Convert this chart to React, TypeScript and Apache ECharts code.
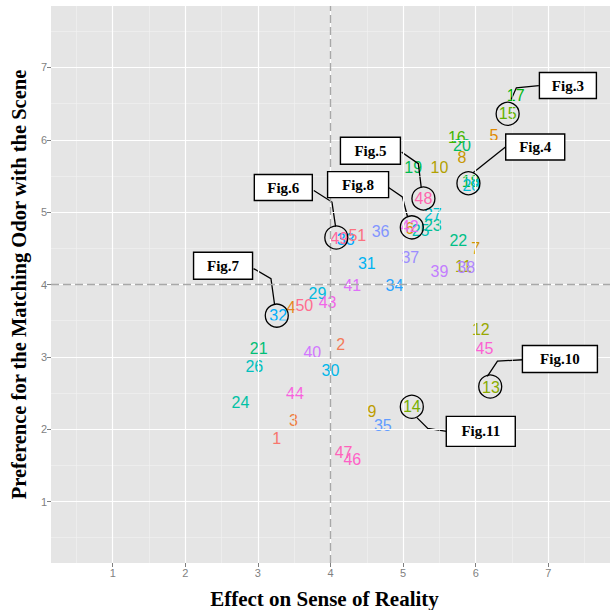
import React, { useEffect, useRef } from "react";
import * as echarts from "echarts";

// ---- data: label id, effect on sense of reality (x), preference (y) ----
const pointIds = [
  1, 2, 3, 4, 5, 6, 7, 8, 9, 10,
  11, 12, 13, 14, 15, 16, 17, 18, 19, 20,
  21, 22, 23, 24, 25, 26, 27, 28, 29, 30,
  31, 32, 33, 34, 35, 36, 37, 38, 39, 40,
  41, 42, 43, 44, 45, 46, 47, 48, 49, 50, 51,
];
const pointX = [
  3.26, 4.14, 3.49, 3.46, 6.25, 5.09, 6.0, 5.81, 4.57, 5.5,
  5.83, 6.07, 6.21, 5.12, 6.44, 5.74, 6.55, 5.93, 5.14, 5.81,
  3.01, 5.76, 5.41, 2.76, 5.24, 2.95, 5.41, 5.94, 3.82, 4.0,
  4.5, 3.28, 4.21, 4.88, 4.72, 4.69, 5.1, 5.87, 5.5, 3.75,
  4.3, 5.09, 3.96, 3.51, 6.12, 4.3, 4.18, 5.28, 4.12, 3.64, 4.37,
];
const pointY = [
  1.87, 3.17, 2.12, 3.68, 6.06, 4.78, 4.5, 5.76, 2.24, 5.62,
  4.25, 3.38, 2.57, 2.31, 6.36, 6.03, 6.61, 5.42, 5.62, 5.92,
  3.11, 4.61, 4.82, 2.37, 4.75, 2.87, 4.97, 5.37, 3.88, 2.81,
  4.29, 3.57, 4.62, 3.99, 2.05, 4.73, 4.37, 4.24, 4.18, 3.06,
  3.99, 4.8, 3.75, 2.49, 3.12, 1.58, 1.68, 5.19, 4.64, 3.71, 4.68,
];

const xTicks = [1, 2, 3, 4, 5, 6, 7];
const yTicks = [1, 2, 3, 4, 5, 6, 7];
const minorBreaks = [0.5, 1.5, 2.5, 3.5, 4.5, 5.5, 6.5, 7.5];
const refX = 4;
const refY = 4;

// ---- annotations ----
const figLabels = ["Fig.3", "Fig.4", "Fig.5", "Fig.6", "Fig.7", "Fig.8", "Fig.10", "Fig.11"];
const circleX = [6.44, 5.9, 5.28, 4.08, 3.26, 5.12, 6.2, 5.12];
const circleY = [6.36, 5.4, 5.19, 4.65, 3.57, 4.79, 2.59, 2.31];
const boxX = [7.27, 6.82, 4.55, 3.35, 2.52, 4.38, 7.16, 6.07];
const boxY = [6.75, 5.9, 5.85, 5.34, 4.26, 5.38, 2.97, 1.97];
const leaderX = [
  [6.87, 6.56, 6.49],
  [6.41, 5.96],
  [4.98, 5.21, 5.25],
  [3.77, 4.02, 4.07],
  [2.94, 3.18, 3.23],
  [4.8, 4.99, 5.06],
  [6.65, 6.3, 6.16],
  [5.19, 5.34, 5.6],
];
const leaderY = [
  [6.75, 6.72, 6.56],
  [5.9, 5.54],
  [5.83, 5.67, 5.34],
  [5.3, 5.14, 4.8],
  [4.22, 4.08, 3.72],
  [5.34, 5.21, 4.94],
  [2.96, 2.94, 2.73],
  [2.16, 2.01, 1.97],
];
const boxW = [57, 59, 60, 58, 59, 61, 75, 69];
const boxH = [26, 26, 27, 26, 27, 26, 27, 30];

// ggplot2-style hue palette (HCL, c=100, l=65)
function hclToHex(h: number, c: number, l: number): string {
  const hr = (h * Math.PI) / 180;
  const U = c * Math.cos(hr);
  const V = c * Math.sin(hr);
  const Xn = 95.047, Yn = 100, Zn = 108.883;
  const den = Xn + 15 * Yn + 3 * Zn;
  const un = (4 * Xn) / den;
  const vn = (9 * Yn) / den;
  const Y = l > 8 ? Yn * Math.pow((l + 16) / 116, 3) : (Yn * l) / 903.3;
  const u = U / (13 * l) + un;
  const v = V / (13 * l) + vn;
  const X = (9 * Y * u) / (4 * v);
  const Z = ((9 * Y) / v - 15 * Y - X) / 3;
  const x = X / 100, y = Y / 100, z = Z / 100;
  const lin = [
    3.2404542 * x - 1.5371385 * y - 0.4985314 * z,
    -0.969266 * x + 1.8760108 * y + 0.041556 * z,
    0.0556434 * x - 0.2040259 * y + 1.0572252 * z,
  ];
  return (
    "#" +
    lin
      .map((t) => {
        let s = t <= 0.0031308 ? 12.92 * t : 1.055 * Math.pow(t, 1 / 2.4) - 0.055;
        s = Math.max(0, Math.min(1, s));
        return Math.round(s * 255).toString(16).padStart(2, "0");
      })
      .join("")
  );
}

export default function App() {
  const ref = useRef<HTMLDivElement>(null);

  useEffect(() => {
    document.body.style.margin = "0";
    if (!ref.current) return;
    const chart = echarts.init(ref.current, undefined, { renderer: "svg" });
    const n = pointIds.length;

    const gridLines: any[] = [];
    minorBreaks.forEach((b) => {
      gridLines.push({ xAxis: b, lineStyle: { color: "#f2f2f2", width: 0.6, type: "solid" } });
      gridLines.push({ yAxis: b, lineStyle: { color: "#f2f2f2", width: 0.6, type: "solid" } });
    });
    xTicks.forEach((t) => gridLines.push({ xAxis: t, lineStyle: { color: "#ffffff", width: 1.2, type: "solid" } }));
    yTicks.forEach((t) => gridLines.push({ yAxis: t, lineStyle: { color: "#ffffff", width: 1.2, type: "solid" } }));
    gridLines.push({ xAxis: refX, lineStyle: { color: "#a8a8a8", width: 1.4, type: [8, 4] } });
    gridLines.push({ yAxis: refY, lineStyle: { color: "#a8a8a8", width: 1.4, type: [8, 4] } });

    const labelData = pointIds.map((id, i) => ({
      value: [pointX[i], pointY[i]],
      name: String(id),
      label: { color: hclToHex(15 + (360 * i) / n, 100, 65) },
    }));

    const axisCommon = {
      type: "value" as const,
      min: 0.15,
      max: 7.85,
      splitLine: { show: false },
      axisLine: { show: false },
      nameLocation: "middle" as const,
    };

    chart.setOption({
      animation: false,
      grid: {
        left: 51,
        right: 2,
        top: 6,
        bottom: 47,
        show: true,
        backgroundColor: "#e5e5e5",
        borderWidth: 0,
        outerBoundsMode: "none",
        containLabel: false,
      },
      xAxis: {
        ...axisCommon,
        name: "Effect on Sense of Reality",
        nameGap: 25,
        nameTextStyle: {
          fontFamily: "Liberation Serif",
          fontWeight: "bold",
          fontSize: 21,
          color: "#000",
          padding: [0, 12, 0, 0],
        },
        axisTick: { show: true, customValues: xTicks, length: 4, lineStyle: { color: "#7f7f7f", width: 1 } },
        axisLabel: { customValues: xTicks, color: "#7f7f7f", fontSize: 11, margin: 4, fontFamily: "Liberation Sans" },
      },
      yAxis: {
        ...axisCommon,
        name: "Preference for the Matching Odor with the Scene",
        nameGap: 20,
        nameRotate: 90,
        nameTextStyle: {
          fontFamily: "Liberation Serif",
          fontWeight: "bold",
          fontSize: 20.5,
          color: "#000",
        },
        axisTick: { show: true, customValues: yTicks, length: 4, lineStyle: { color: "#7f7f7f", width: 1 } },
        axisLabel: { customValues: yTicks, color: "#7f7f7f", fontSize: 11, margin: 4, fontFamily: "Liberation Sans" },
      },
      series: [
        {
          type: "scatter",
          data: [],
          z: 1,
          silent: true,
          markLine: { silent: true, symbol: "none", label: { show: false }, data: gridLines, animation: false },
        },
        {
          type: "scatter",
          z: 3,
          symbolSize: 1,
          itemStyle: { color: "rgba(0,0,0,0)", opacity: 1 },
          data: labelData,
          label: {
            show: true,
            position: "inside",
            formatter: "{b}",
            fontSize: 16,
            fontFamily: "Liberation Sans",
            textBorderWidth: 0,
          },
          labelLayout: { hideOverlap: false },
        },
        {
          type: "lines",
          coordinateSystem: "cartesian2d",
          polyline: true,
          z: 4,
          lineStyle: { color: "#000", width: 1.3, opacity: 1 },
          data: leaderX.map((xsArr, i) => ({ coords: xsArr.map((xv, j) => [xv, leaderY[i][j]]) })),
        },
        {
          type: "scatter",
          z: 5,
          symbol: "circle",
          symbolSize: 23,
          itemStyle: { color: "rgba(0,0,0,0)", borderColor: "#000", borderWidth: 1.3, opacity: 1 },
          data: circleX.map((cx, i) => [cx, circleY[i]]),
        },
      ],
    });

    const graphics: any[] = [];
    figLabels.forEach((t, i) => {
      const p = chart.convertToPixel({ gridIndex: 0 }, [boxX[i], boxY[i]]) as number[];
      graphics.push({
        type: "rect",
        z: 10,
        shape: { x: p[0] - boxW[i] / 2, y: p[1] - boxH[i] / 2, width: boxW[i], height: boxH[i] },
        style: { fill: "#ffffff", stroke: "#000", lineWidth: 1.4 },
      });
      graphics.push({
        type: "text",
        z: 11,
        x: p[0],
        y: p[1],
        style: {
          text: t,
          fill: "#000",
          font: 'bold 15px "Liberation Serif"',
          align: "center",
          verticalAlign: "middle",
        },
      });
    });
    chart.setOption({ graphic: graphics });

    return () => chart.dispose();
  }, []);

  return <div ref={ref} style={{ width: 612, height: 610 }} />;
}
